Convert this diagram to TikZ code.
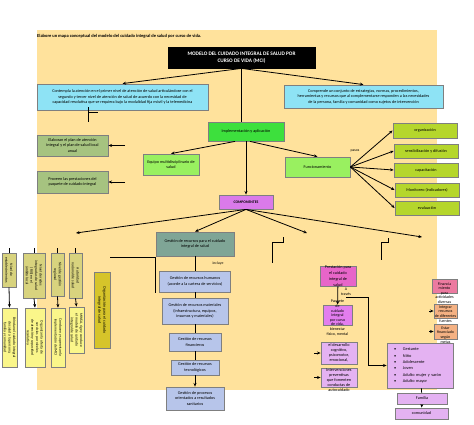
\documentclass[tikz,border=0pt]{standalone}
\usepackage{fontspec}
\setmainfont{Carlito}
\usepackage{tikz}
\usetikzlibrary{arrows.meta, positioning, calc}

\definecolor{fondo}{HTML}{FFE29C}
\definecolor{boxline}{HTML}{7F7F7F}
\definecolor{cian}{HTML}{8EE3F5}
\definecolor{verdefuerte}{HTML}{3DE03D}
\definecolor{verdeclaro}{HTML}{99F060}
\definecolor{lima}{HTML}{B5D62C}
\definecolor{oliva}{HTML}{A6C380}
\definecolor{violeta}{HTML}{DA7AEA}
\definecolor{gestion}{HTML}{7FA596}
\definecolor{lavanda}{HTML}{B7C5EA}
\definecolor{rosa}{HTML}{E765C9}
\definecolor{orquidea}{HTML}{E27DEE}
\definecolor{lila}{HTML}{E4B2F2}
\definecolor{rosafin}{HTML}{EC7AA0}
\definecolor{naranja}{HTML}{F4B183}
\definecolor{caqui}{HTML}{D8D37E}
\definecolor{amarillo}{HTML}{FAF68A}
\definecolor{oro}{HTML}{D6C42A}

\newcommand{\fsz}[2]{\fontsize{#1}{#2}\selectfont}

\begin{document}
\begin{tikzpicture}[
    x=1pt, y=-1pt,
    box/.style={rectangle, draw=boxline, line width=0.8pt, align=center, inner sep=0.5pt, font=\fsz{4.2}{5.6}},
    vbox/.style={box, rotate=-90, font=\fsz{3.7}{4.6}},
    ovtext/.style={align=center, inner sep=0pt, font=\fsz{4}{4.6}},
    tag/.style={inner sep=0pt, font=\fsz{3.8}{4.5}},
    arrow/.style={-{Stealth[length=3.6pt,width=3pt]}, line width=0.8pt},
    link/.style={line width=0.8pt},
]

\useasboundingbox (0,0) rectangle (474,424);
\fill[white] (0,0) rectangle (474,424);
\fill[fondo] (37,30) rectangle (437,390);

\node[anchor=west, inner sep=0pt, font=\bfseries\fsz{4.5}{5}] (titulo) at (37,36) {Elabore un mapa conceptual del modelo del cuidado integral de salud por curso de vida.};

% top
\node[box, fill=black, draw=black, text=white, font=\bfseries\fsz{5.3}{7}, minimum width=147pt, minimum height=21pt] (mci) at (241.5,57.5) {MODELO DEL CUIDADO INTEGRAL DE SALUD POR\\CURSO DE VIDA (MCI)};
\node[box, fill=cian, minimum width=171pt, minimum height=26pt] (contempla) at (122.5,97) {Contempla la atención en el primer nivel de atención de salud articulándose con el\\segundo y tercer nivel de atención de salud de acuerdo con la necesidad de\\capacidad resolutiva que se requiera bajo la modalidad fija móvil y la telemedicina};
\node[box, fill=cian, minimum width=159pt, minimum height=23pt] (comprende) at (363.5,96.5) {Comprende un conjunto de estrategias, normas, procedimientos,\\herramientas y recursos que al complementarse responden a las necesidades\\de la persona, familia y comunidad como sujetos de intervención};

% implementacion
\node[box, fill=verdefuerte, minimum width=76pt, minimum height=19pt] (impl) at (246,131.5) {Implementación y aplicación};
\node[box, fill=oliva, minimum width=71pt, minimum height=21pt] (elaboran) at (72.5,145.5) {Elaboran el plan de atención\\integral y el plan de salud local\\anual};
\node[box, fill=oliva, minimum width=71pt, minimum height=22pt] (proveen) at (72.5,182) {Proveen las prestaciones del\\paquete de cuidado integral};
\node[box, fill=verdeclaro, minimum width=56pt, minimum height=21pt] (equipo) at (171,164.5) {Equipo multidisciplinario de\\salud};
\node[box, fill=verdeclaro, minimum width=65pt, minimum height=20pt] (fun) at (317.5,167) {Funcionamiento};
\node[tag] (pasos) at (355,151) {pasos};

\node[box, fill=lima, minimum width=64pt, minimum height=15pt] (p1) at (425,130.5) {organización};
\node[box, fill=lima, minimum width=64pt, minimum height=14pt] (p2) at (426,151) {sensibilización y difusión};
\node[box, fill=lima, minimum width=64pt, minimum height=14pt] (p3) at (426,170) {capacitación};
\node[box, fill=lima, minimum width=64pt, minimum height=14pt] (p4) at (427,190) {Monitoreo (indicadores)};
\node[box, fill=lima, minimum width=64pt, minimum height=14pt] (p5) at (427,208) {evaluación};

\node[box, fill=violeta, font=\bfseries\fsz{3.8}{4.5}, minimum width=54pt, minimum height=14pt] (comp) at (246,202) {COMPONENTES};

% organizacion
\node[vbox, fill=caqui, minimum width=34pt, minimum height=14pt] (upA) at (9,270) {Nivel de\\establecimientos};
\node[vbox, fill=caqui, minimum width=45pt, minimum height=22pt] (upB) at (34,275.5) {Nivel de redes\\integradas de salud\\(RIS) en el\\ámbito local};
\node[vbox, fill=caqui, minimum width=43pt, minimum height=13pt] (upC) at (57.5,274.5) {Nivel de gestión\\regional};
\node[vbox, fill=caqui, minimum width=45pt, minimum height=13pt] (upD) at (75.5,275.5) {Autoridad\\nacional de salud};
\node[vbox, fill=amarillo, minimum width=59pt, minimum height=15pt] (loA) at (9.5,337.5) {Brindan el cuidado integral\\de salud a la persona,\\familia y comunidad};
\node[vbox, fill=amarillo, minimum width=59pt, minimum height=20pt] (loB) at (35,337.5) {Organizan la oferta de\\servicios por niveles\\de atención y capacidad\\resolutiva};
\node[vbox, fill=amarillo, minimum width=59pt, minimum height=14pt] (loC) at (58,337.5) {Conducen y supervisan la\\implementación del MCI};
\node[vbox, fill=amarillo, minimum width=46pt, minimum height=15pt] (loD) at (76.5,330) {MINSA, rige y conduce\\el modelo de cuidado\\integral de salud};
\node[vbox, fill=oro, font=\fsz{4}{5}, minimum width=76pt, minimum height=16pt] (orgcui) at (102,310) {Organización para el cuidado\\integral de salud};

% gestion
\node[box, fill=gestion, minimum width=78pt, minimum height=24pt] (gmain) at (195,244) {Gestión de recursos para el cuidado\\integral de salud};
\node[tag] (incluye) at (218,263) {incluye};
\node[box, fill=lavanda, minimum width=71pt, minimum height=21pt] (grh) at (195,281.5) {Gestión de recursos humanos\\(acorde a la cartera de servicios)};
\node[box, fill=lavanda, minimum width=66pt, minimum height=26pt] (grm) at (195,311) {Gestión de recursos materiales\\(infraestructura, equipos,\\insumos y materiales)};
\node[box, fill=lavanda, minimum width=52pt, minimum height=18pt] (grf) at (195,342) {Gestión de recursos\\financieros};
\node[box, fill=lavanda, minimum width=48pt, minimum height=15pt] (grt) at (195,367.5) {Gestión de recursos\\tecnológicos};
\node[box, fill=lavanda, minimum width=58pt, minimum height=23pt] (gpo) at (195,398.5) {Gestión de procesos\\orientados a resultados\\sanitarios};

% prestacion
\node[box, fill=rosa, minimum width=36pt, minimum height=20pt] (prest) at (338,276) {};
\node[ovtext, font=\fsz{4.2}{5.8}] (presttxt) at (338,276) {Prestación para\\el cuidado\\integral de\\salud};
\node[ovtext] (atrav) at (346,292) {A\\través};
\node[box, fill=orquidea, minimum width=29pt, minimum height=20pt] (paq) at (337.5,315) {};
\node[ovtext] (paqtxt) at (337.5,318) {Paquete\\de\\cuidado\\integral\\por curso\\de vida,\\bienestar\\físico, mental};
\node[box, fill=lila, minimum width=36pt, minimum height=22pt] (des) at (339,353) {};
\node[ovtext, font=\fsz{4.2}{5}] (destxt) at (339,353) {el desarrollo\\cognitivo,\\psicomotor,\\emocional,};
\node[box, fill=lila, minimum width=36pt, minimum height=19pt] (inter) at (339,377.5) {};
\node[ovtext, font=\fsz{4.2}{5}] (intertxt) at (339,380) {Intervenciones\\preventivas\\que fomenten\\conductas de\\autocuidado};

% financiamiento
\node[box, fill=rosafin, minimum width=25pt, minimum height=14pt] (fin) at (444.5,286) {};
\node[ovtext] (fintxt) at (444.5,293) {Financia\\miento\\para\\actividades\\diversas};
\node[box, fill=naranja, minimum width=23pt, minimum height=14pt] (integrar) at (445.5,311) {};
\node[ovtext] (integrartxt) at (445.5,314) {Integrar\\recursos\\de diferentes\\fuentes};
\node[box, fill=naranja, minimum width=23pt, minimum height=15pt] (estar) at (445.5,331.5) {};
\node[ovtext] (estartxt) at (445.5,335) {Estar\\financiado\\según\\metas};

% curso de vida
\node[box, fill=lila, font=\fsz{4.3}{6.3}, align=left, text width=52pt, minimum width=66pt, minimum height=45pt] (curso) at (420,365.5) {%
\makebox[9pt][l]{\textbullet}Gestante\\
\makebox[9pt][l]{\textbullet}Niño\\
\makebox[9pt][l]{\textbullet}Adolescente\\
\makebox[9pt][l]{\textbullet}Joven\\
\makebox[9pt][l]{\textbullet}Adulto mujer y varón\\
\makebox[9pt][l]{\textbullet}Adulto mayor};
\node[box, fill=lila, minimum width=50pt, minimum height=11pt] (familia) at (422,398.5) {Familia};
\node[box, fill=lila, minimum width=53pt, minimum height=11pt] (comunidad) at (421.5,413.5) {comunidad};

% free ends
\coordinate (orgtip) at (76,233);
\coordinate (prestip) at (307,233);
\coordinate (fintip) at (422,237);
\coordinate (elabin) at (125,145.5);
\coordinate (provin) at (125,182);
\coordinate (t1) at (88,107);
\coordinate (t2) at (88,122);
\coordinate (t3) at (98,112);
\coordinate (t4) at (88,112);
\coordinate (l1) at (110,257);
\coordinate (l2) at (155,293);
\coordinate (h1) at (283,237);
\coordinate (h2) at (283,242);
\coordinate (h3) at (272,263);
\coordinate (k1) at (388,238);
\coordinate (k2) at (388,242);
\coordinate (k3) at (381,260);
\coordinate (vA) at (9,248);
\coordinate (vB) at (34,248);
\coordinate (vC) at (57.5,248);
\coordinate (vD) at (75.5,248);
\coordinate (atr) at (346,297);
\coordinate (atr2) at (368,297);
\coordinate (desin) at (314,353);
\coordinate (interin) at (314,377.5);
\coordinate (intin) at (429,311);
\coordinate (estin) at (429,331.5);

% connectors
\draw[arrow] (mci.south) -- (contempla.north);
\draw[arrow] (mci.south) -- (comprende.north);
\draw[link] (mci.south) -- (mci.south |- impl.north);
\draw[link] (t1) -- (t2);
\draw[link] (t4) -- (t3);
\draw[arrow] ([xshift=-11pt]impl.south) -- (equipo.north);
\draw[arrow] ([xshift=4pt]impl.south) -- (fun.north);
\draw[arrow] (impl.south) -- (comp.north);
\draw[arrow] (elabin) -- (elaboran.east);
\draw[arrow] (provin) -- (proveen.east);

\foreach \p in {p1,p2,p3,p4,p5}
    \draw[arrow] (fun.east) -- (\p.west);

\draw[arrow] (comp.south) -- (orgtip);
\draw[arrow] (comp.south) -- (gmain.north);
\draw[arrow] (comp.south) -- (prestip);
\draw[arrow] (comp.south) -- (fintip);

\draw[link] (l1) -| (l2);
\draw[link] (h1) -- (h2) -| (h3);
\draw[link] (k1) -- (k2) -| (k3);

\foreach \u/\l/\v in {upA/loA/vA, upB/loB/vB, upC/loC/vC, upD/loD/vD} {
    \draw[link] (\v) -- (\u.west);
    \draw[arrow] (\u.east) -- (\l.west);
}

\draw[link] (gmain) -- (grh);
\draw[link] (grh) -- (grm);
\draw[link] (grm) -- (grf);
\draw[link] (grf) -- (grt);
\draw[arrow] (grt) -- (gpo);

\draw[arrow] (prest) -- (paq);
\draw[arrow] (atr) -- (atr2) |- (curso.west);
\draw[arrow] (desin) -- (des.west);
\draw[arrow] (interin) -- (inter.west);
\draw[arrow] (intin) -- (integrar.west);
\draw[arrow] (estin) -- (estar.west);

\draw[link] (curso) -- (familia);
\draw[arrow] (familia) -- (comunidad);

\end{tikzpicture}
\end{document}
